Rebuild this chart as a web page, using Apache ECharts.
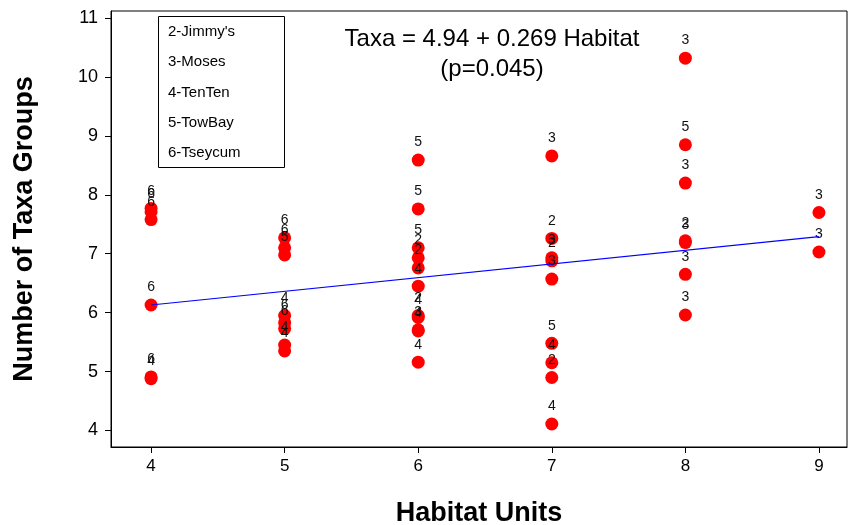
<!DOCTYPE html>
<html><head><meta charset="utf-8">
<script src="https://cdn.jsdelivr.net/npm/echarts@6/dist/echarts.min.js"></script>
<style>html,body{margin:0;padding:0;background:#fff}#c{width:848px;height:525px}</style>
</head><body><div id="c"></div>
<script>
// Data
const habitatX = [4,4,4,4,4,4,
  5,5,5,5,5,5,5,5,
  6,6,6,6,6,6,6,6,6,6,6,
  7,7,7,7,7,7,7,7,7,
  8,8,8,8,8,8,8,
  9,9];
const taxaY = [7.77,7.71,7.58,6.13,4.91,4.88,
  7.27,7.10,6.98,5.95,5.83,5.73,5.45,5.35,
  8.59,7.76,7.10,6.93,6.76,6.45,5.95,5.92,5.71,5.69,5.16,
  8.66,7.26,6.93,6.88,6.57,5.48,5.15,4.90,4.11,
  10.32,8.85,8.20,7.22,7.19,6.65,5.96,
  7.70,7.03];
const siteCode = ['6','6','6','6','6','4',
  '6','6','5','4','6','6','4','4',
  '5','5','5','2','2','4','2','4','3','4','4',
  '3','2','3','2','3','5','4','2','4',
  '3','5','3','2','3','3','3',
  '3','3'];
const lineX = [4, 9];
const lineY = [6.13, 7.29];
const xTicks = [4,5,6,7,8,9];
const yTicks = [4,5,6,7,8,9,10,11];
const legendLines = ["2-Jimmy's","3-Moses","4-TenTen","5-TowBay","6-Tseycum"];

const pts = habitatX.map((x,i)=>[x, taxaY[i], siteCode[i]]);
const font = 'Liberation Sans, Arial, sans-serif';
const chart = echarts.init(document.getElementById('c'), null, {renderer:'canvas'});
const legendGraphics = [{
  type:'rect', shape:{x:158.5,y:16.5,width:126,height:151},
  style:{fill:'#fff',stroke:'#000',lineWidth:1}, z:10
}].concat(legendLines.map((t,i)=>({
  type:'text', x:168, y:32+i*30.3, z:11,
  style:{text:t, fill:'#000', font:'15px '+font, textVerticalAlign:'middle'}
})));
chart.setOption({
  animation:false,
  grid:{left:111, right:1, top:11, bottom:78, show:true, borderColor:'#000', borderWidth:1,
    backgroundColor:'transparent', containLabel:false, outerBoundsMode:'none'},
  xAxis:{type:'value', min:3.7, max:9.21,
    axisLine:{show:true, onZero:false, lineStyle:{color:'#000'}},
    axisTick:{show:true, length:6, customValues:xTicks, lineStyle:{color:'#000'}},
    axisLabel:{customValues:xTicks, color:'#000', fontSize:17, fontFamily:font, margin:11},
    splitLine:{show:false},
    name:'Habitat Units', nameLocation:'middle', nameGap:53,
    nameTextStyle:{fontSize:27, fontWeight:'bold', color:'#000', fontFamily:font}
  },
  yAxis:{type:'value', min:3.72, max:11.12,
    axisLine:{show:true, onZero:false, lineStyle:{color:'#000'}},
    axisTick:{show:true, length:6, customValues:yTicks, lineStyle:{color:'#000'}},
    axisLabel:{customValues:yTicks, color:'#000', fontSize:18, fontFamily:font, margin:13},
    splitLine:{show:false},
    name:'Number of Taxa Groups', nameLocation:'middle', nameGap:73,
    nameTextStyle:{fontSize:27, fontWeight:'bold', color:'#000', fontFamily:font}
  },
  graphic: legendGraphics.concat([
    {type:'text', x:492, y:39, z:11, style:{text:'Taxa = 4.94 + 0.269 Habitat', fill:'#000', font:'24px '+font, textAlign:'center', textVerticalAlign:'middle'}},
    {type:'text', x:492, y:69, z:11, style:{text:'(p=0.045)', fill:'#000', font:'24px '+font, textAlign:'center', textVerticalAlign:'middle'}}
  ]),
  series:[
    {type:'line', data:lineX.map((x,i)=>[x,lineY[i]]), symbol:'none',
      lineStyle:{color:'#0000ff', width:1.2}, z:3, silent:true},
    {type:'scatter', data:pts, symbolSize:13, itemStyle:{color:'#ff0000', opacity:1}, z:2,
      label:{show:true, position:'top', distance:4, formatter:p=>p.data[2],
        fontSize:14, color:'#111', fontFamily:font}}
  ]
});
</script></body></html>
